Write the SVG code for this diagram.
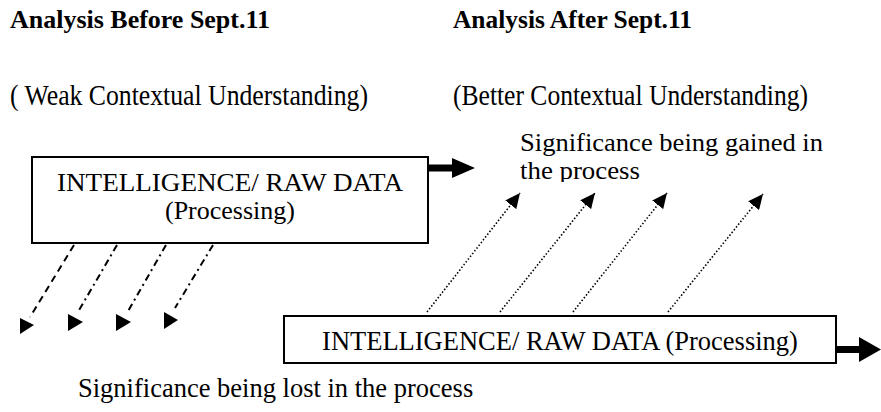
<svg xmlns="http://www.w3.org/2000/svg" width="881" height="412" viewBox="0 0 881 412">
<style>
text { font-family: "Liberation Serif", "Times New Roman", serif; fill: #000; }
.h { font-weight: bold; font-size: 26px; }
.sub { font-size: 30px; }
.t { font-size: 26.5px; }
.t2 { font-size: 25px; }
.box { fill: #fff; stroke: #000; stroke-width: 2; }
.dash { stroke: #000; stroke-width: 2; fill: none; stroke-dasharray: 7 5; }
.dashdot { stroke: #000; stroke-width: 2; fill: none; stroke-dasharray: 7 4 2 4; }
.dot { stroke: #000; stroke-width: 1.6; fill: none; stroke-dasharray: 1.5 2; }
.head { fill: #000; }
</style>
<defs>
<marker id="ah" markerUnits="userSpaceOnUse" markerWidth="16" markerHeight="14" refX="15" refY="7" orient="auto">
<path d="M0,0 L15,7 L0,14 z" fill="#000"/>
</marker>
<clipPath id="clipTop"><rect x="0" y="0" width="881" height="182"/></clipPath>
</defs>
<rect width="881" height="412" fill="#fff"/>

<g id="titles">
<text class="h" x="10" y="28" textLength="260" lengthAdjust="spacingAndGlyphs">Analysis Before Sept.11</text>
<text class="h" x="453" y="28" textLength="239" lengthAdjust="spacingAndGlyphs">Analysis After Sept.11</text>
<text class="sub" x="10" y="105" textLength="358" lengthAdjust="spacingAndGlyphs">( Weak Contextual Understanding)</text>
<text class="sub" x="453" y="105" textLength="355" lengthAdjust="spacingAndGlyphs">(Better Contextual Understanding)</text>
</g>

<g id="label-gained" clip-path="url(#clipTop)">
<text class="t2" x="520" y="151" textLength="303" lengthAdjust="spacingAndGlyphs">Significance being gained in</text>
<text class="t2" x="520" y="179" textLength="120" lengthAdjust="spacingAndGlyphs">the process</text>
</g>

<g id="label-lost">
<text class="t" x="78" y="397">Significance being lost in the process</text>
</g>

<g id="connectors">
<polygon class="head" points="428,164.5 452,164.5 452,158 475,168 452,178 452,171.5 428,171.5"/>
<polygon class="head" points="836,346 859,346 859,337 881,349.5 859,362 859,353 836,353"/>
<line class="dash" x1="74" y1="245" x2="30" y2="317"/>
<polygon class="head" points="20,318 20,334 34,325"/>
<line class="dashdot" x1="117" y1="245" x2="78" y2="312"/>
<polygon class="head" points="68,314 68,331 83,322"/>
<line class="dashdot" x1="166" y1="245" x2="127" y2="313"/>
<polygon class="head" points="116,314 116,331 131,322"/>
<line class="dashdot" x1="213" y1="245" x2="175" y2="308"/>
<polygon class="head" points="164,312 164,329 178,320"/>
<line class="dot" x1="427" y1="312" x2="520" y2="193" marker-end="url(#ah)"/>
<line class="dot" x1="500" y1="312" x2="595" y2="193" marker-end="url(#ah)"/>
<line class="dot" x1="573" y1="312" x2="667" y2="193" marker-end="url(#ah)"/>
<line class="dot" x1="668" y1="312" x2="763" y2="194" marker-end="url(#ah)"/>
</g>

<g id="node-before">
<rect class="box" x="32" y="157" width="396" height="86"/>
<text class="t2" x="230" y="191" text-anchor="middle" textLength="346" lengthAdjust="spacingAndGlyphs">INTELLIGENCE/ RAW DATA</text>
<text class="t2" x="230" y="219" text-anchor="middle" textLength="130" lengthAdjust="spacingAndGlyphs">(Processing)</text>
</g>

<g id="node-after">
<rect class="box" x="284" y="316" width="552" height="47"/>
<text class="t" x="560" y="350" text-anchor="middle">INTELLIGENCE/ RAW DATA (Processing)</text>
</g>
</svg>
